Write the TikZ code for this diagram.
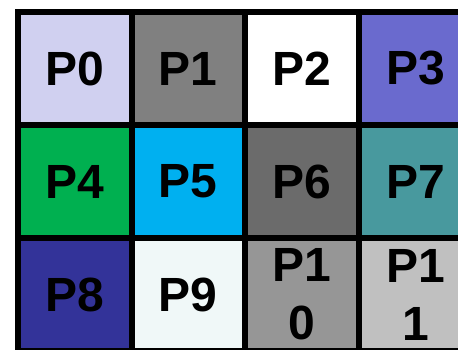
\documentclass[tikz,border=0pt]{standalone}
\usepackage{fontspec}
\setmainfont{Liberation Sans}
\usepackage{xcolor}

\definecolor{pzero}{HTML}{D0D0F0}
\definecolor{pone}{HTML}{808080}
\definecolor{pthree}{HTML}{6A6ACE}
\definecolor{pfour}{HTML}{00B050}
\definecolor{pfive}{HTML}{00B0F0}
\definecolor{psix}{HTML}{6B6B6B}
\definecolor{pseven}{HTML}{48999E}
\definecolor{peight}{HTML}{333399}
\definecolor{pnine}{HTML}{F0F8F8}
\definecolor{pten}{HTML}{969696}
\definecolor{peleven}{HTML}{C0C0C0}

\tikzset{
    cell/.style={draw=black, line width=6pt, minimum width=113.5pt, minimum height=113pt,
        inner sep=0pt, align=center, font=\fontsize{48}{58}\selectfont\bfseries}
}

\begin{document}
\begin{tikzpicture}[x=1pt, y=-1pt]
        \useasboundingbox (0, 0) rectangle (458, 349);
        \begin{scope}
        \clip (0, 0) rectangle (458, 349);
        % first row
        \node[cell, fill=pzero] (p0) at (75, 68.5) {P0};
        \node[cell, fill=pone] (p1) at (188.3, 68.5) {P1};
        \node[cell, fill=white] (p2) at (302, 68.5) {P2};
        \node[cell, fill=pthree] (p3) at (415.7, 68.5) {P3};
        % second row
        \node[cell, fill=pfour] (p4) at (75, 181.5) {P4};
        \node[cell, fill=pfive] (p5) at (188.3, 181.5) {P5};
        \node[cell, fill=psix] (p6) at (302, 181.5) {P6};
        \node[cell, fill=pseven] (p7) at (415.7, 181.5) {P7};
        % third row
        \node[cell, fill=peight] (p8) at (75, 294.5) {P8};
        \node[cell, fill=pnine] (p9) at (188.3, 294.5) {P9};
        \node[cell, fill=pten] (p10) at (302, 294.5) {P1\\0};
        \node[cell, fill=peleven] (p11) at (415.7, 294.5) {P1\\1};
        \end{scope}
    \end{tikzpicture}
\end{document}
